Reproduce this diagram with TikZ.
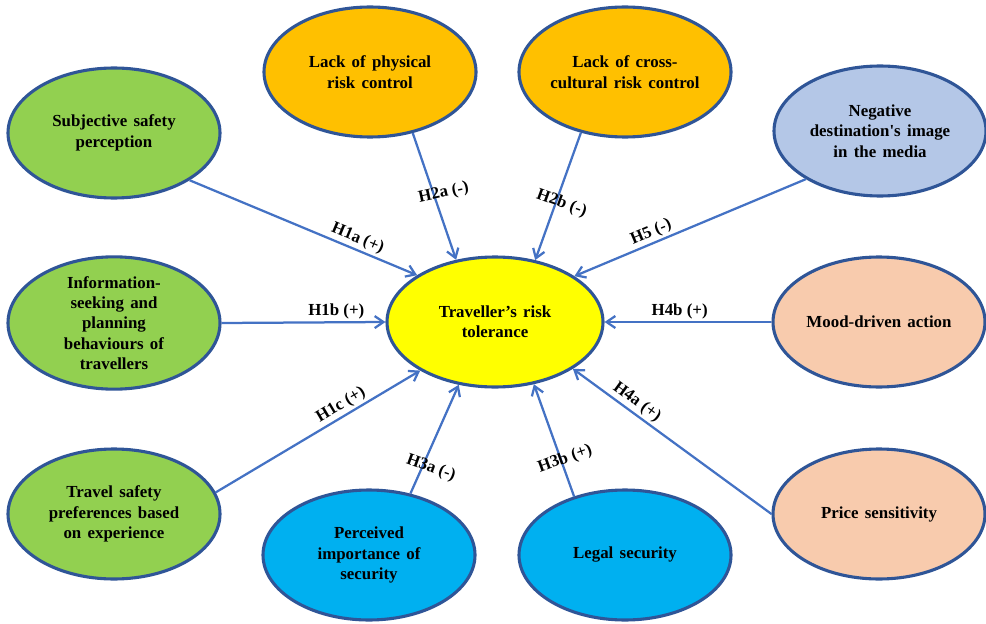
\documentclass[tikz,border=0pt]{standalone}
\usepackage{fontspec}
\setmainfont{Liberation Serif}
\usetikzlibrary{arrows.meta,shapes.geometric}

\definecolor{rim}{HTML}{2F5597}
\definecolor{link}{HTML}{4472C4}
\definecolor{grn}{HTML}{92D050}
\definecolor{org}{HTML}{FFC000}
\definecolor{lblue}{HTML}{B4C7E7}
\definecolor{ylw}{HTML}{FFFF00}
\definecolor{peach}{HTML}{F8CBAD}
\definecolor{sky}{HTML}{00B0F0}
\newcommand{\widegap}{\spaceskip=4.5pt plus 1pt\relax}

\begin{document}
\begin{tikzpicture}[
  factor/.style={ellipse,draw=rim,line width=2.2pt,minimum width=5.3cm,minimum height=3.25cm,inner sep=0pt,align=center,font=\fontsize{12}{14.5}\selectfont\bfseries\widegap},
  hyp/.style={draw=link,line width=1.6pt,-{Straight Barb[length=2.2mm,width=3mm]}},
  lbl/.style={font=\fontsize{12}{14}\selectfont\bfseries,inner sep=1.5pt}]
\useasboundingbox (0,0) rectangle (24.65,15.575);
\node[factor,fill=ylw,minimum width=5.4cm] (0) at (12.375,7.525) {Traveller’s risk\\tolerance};
\node[factor,fill=grn] (1) at (2.85,12.25) {Subjective safety\\perception};
\node[factor,fill=org] (2) at (9.25,13.775) {Lack of physical\\risk control};
\node[factor,fill=org] (3) at (15.625,13.775) {Lack of cross-\\cultural risk control};
\node[factor,fill=lblue] (4) at (22.0,12.3) {Negative\\destination\textquotesingle s image\\in the media};
\node[factor,fill=grn] (5) at (2.85,7.5) {Information-\\seeking and\\planning\\behaviours of\\travellers};
\node[factor,fill=peach] (6) at (21.975,7.525) {Mood-driven action};
\node[factor,fill=grn] (7) at (2.85,2.725) {Travel safety\\preferences based\\on experience};
\node[factor,fill=sky] (8) at (9.225,1.7) {Perceived\\importance of\\security};
\node[factor,fill=sky] (9) at (15.625,1.7) {Legal security};
\node[factor,fill=peach] (10) at (21.975,2.725) {Price sensitivity};
% hypotheses
\draw[hyp](1.328)--node[lbl,pos=0.72,sloped,above]{H1a (+)}(0.149);
\draw[hyp](2.305)--node[lbl,pos=0.49,rotate=12,xshift=7pt]{H2a (-)}(0.122);
\draw[hyp](3.234)--node[lbl,pos=0.54,rotate=-20,xshift=4pt]{H2b (-)}(0.57);
\draw[hyp](4.213)--node[lbl,pos=0.65,sloped,above]{H5 (-)}(0.30);
\draw[hyp](5.0)--node[lbl,pos=0.70,above]{H1b (+)}(0.180);
\draw[hyp](6.180)--node[lbl,pos=0.55,above]{H4b (+)}(0.0);
\draw[hyp](7.12)--node[lbl,pos=0.64,sloped,above]{H1c (+)}(0.213);
\draw[hyp](8.56)--node[lbl,pos=0.26,rotate=-20,xshift=6pt]{H3a (-)}(0.240);
\draw[hyp](9.131)--node[lbl,pos=0.32,rotate=20,xshift=3pt]{H3b (+)}(0.302);
\draw[hyp](10.180)--node[lbl,pos=0.71,sloped,above]{H4a (+)}(0.329);
\end{tikzpicture}
\end{document}
